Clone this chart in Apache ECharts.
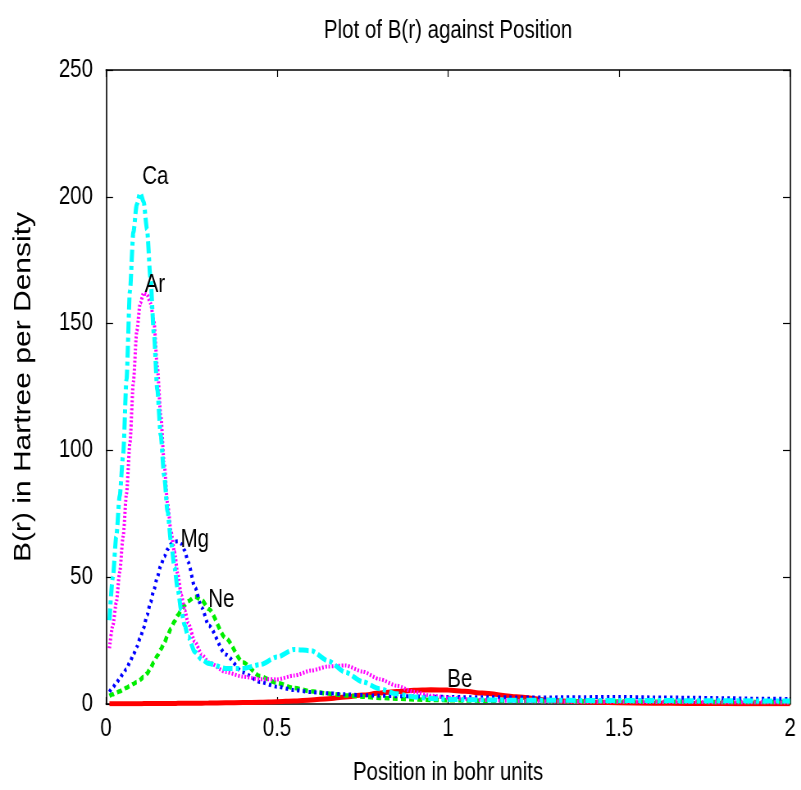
<!DOCTYPE html>
<html>
<head>
<meta charset="utf-8">
<script src="https://cdn.jsdelivr.net/npm/echarts@6/dist/echarts.min.js"></script>
<style>
  html, body { margin: 0; padding: 0; background: #fff; overflow: hidden; }
  /* The plot is laid out on a wider canvas and squeezed horizontally,
     which gives the condensed look of the horizontal lettering. */
  #chart { width: 977px; height: 790px; transform: scaleX(0.8199); transform-origin: 0 0; }
</style>
</head>
<body>
<div id="chart"></div>
<script>
// Radial positions (bohr) shared by every element's curve
const positions = [0.01,0.02,0.03,0.04,0.05,0.06,0.07,0.08,0.09,0.10,0.11,0.12,0.13,0.14,0.15,0.16,0.17,0.18,0.19,0.20,0.21,0.22,0.23,0.24,0.26,0.28,0.30,0.35,0.40,0.45,0.50,0.55,0.60,0.65,0.70,0.75,0.80,0.85,0.90,0.95,1.00,1.05,1.10,1.20,1.30,1.40,1.50,1.60,1.70,1.80,1.90,2.00];

// B(r) values for each element
const beValues = [0.05,0.06,0.07,0.08,0.09,0.1,0.11,0.12,0.13,0.14,0.15,0.16,0.17,0.18,0.19,0.2,0.21,0.22,0.23,0.24,0.25,0.26,0.27,0.28,0.3,0.33,0.36,0.45,0.56,0.7,0.9,1.2,1.6,2.1,2.8,3.5,4.3,4.9,5.4,5.6,5.5,5.0,4.3,2.9,1.4,0.8,0.5,0.3,0.2,0.15,0.1,0.05];
const neValues = [3.2,3.8,4.4,5.0,5.7,6.4,7.1,7.9,8.7,9.6,10.7,12,14.2,16.5,19,21.5,24,27,29.8,32.5,35,37,39,40.5,42.3,41,37.5,26,16.5,11,8.3,6.3,5,4.1,3.4,2.9,2.4,2.1,1.8,1.6,1.5,1.4,1.3,1.2,1.1,1.0,1.0,0.9,0.9,0.8,0.8,0.8];
const mgValues = [4.8,6.5,8.3,10,12,13.8,16.5,19.5,22.5,26,30,35,40,45,50,54.5,58,61,63,64,64.2,63.2,60.5,56,46,38,31,19.5,12.5,8.7,6.8,5.5,4.7,4.2,3.8,3.5,3.3,3.1,3.0,2.9,2.8,2.7,2.7,2.6,2.6,2.7,2.8,2.6,2.5,2.3,2.1,2.0];
const arValues = [22,31,40,52,66,83,103,127,147,158,162,161.5,158,151,133,114,95,79,68,60,51,43,37,32,24.5,19.5,16.5,12.6,10.8,9.8,9.7,11.2,13.2,14.8,15.2,12.8,9.8,7.2,4.8,3.3,2.5,2,1.6,1.2,1.0,0.9,0.9,0.8,0.8,0.7,0.7,0.6];
const caValues = [33,50,66,82,98,128,163,186,197,201.5,198,187,168,146,124,106,90,76,64,54,45,37,31,26.5,20.5,17.5,16,14,14,15.5,18.5,21.5,21,17,12.5,8.8,6,4,2.8,2.2,1.8,1.7,1.6,1.5,1.5,1.4,1.4,1.4,1.3,1.3,1.2,1.2];

// Curve labels and where they sit in data coordinates
const labelNames = ['Ca', 'Ar', 'Mg', 'Ne', 'Be'];
const labelX = [0.106, 0.113, 0.218, 0.299, 0.998];
const labelY = [207.8, 165, 64.7, 41, 9.5];

// Axis tick settings
const xTicks = { min: 0, max: 2, interval: 0.5 };
const yTicks = { min: 0, max: 250, interval: 50 };

const FONT = "'Liberation Sans', Arial, Helvetica, sans-serif";
const SQUEEZE = 0.8199; // horizontal scale applied to the chart box

function pairs(values) {
  return positions.map((x, i) => [x, values[i]]);
}

const frameLine = { show: true, onZero: false, lineStyle: { color: '#000', width: 1.6 } };
const xTick = { show: true, inside: true, length: 7, lineStyle: { color: '#000', width: 1.2 } };
const yTick = { show: true, inside: true, length: 7 / SQUEEZE, lineStyle: { color: '#000', width: 1.2 } };

function curve(name, values, color, width, dash) {
  return {
    name: name,
    type: 'line',
    data: pairs(values),
    showSymbol: false,
    smooth: 0.25,
    smoothMonotone: 'x',
    lineStyle: { color: color, width: width, type: dash, cap: 'butt' },
    emphasis: { disabled: true },
    animation: false,
    z: 2
  };
}

const chart = echarts.init(document.getElementById('chart'), null, { renderer: 'canvas' });

chart.setOption({
  backgroundColor: '#ffffff',
  animation: false,
  title: {
    text: 'Plot of B(r) against Position',
    left: 444 / SQUEEZE,
    textAlign: 'center',
    top: 14,
    textStyle: { fontFamily: FONT, fontSize: 25, fontWeight: 'normal', color: '#000' }
  },
  grid: {
    left: 106 / SQUEEZE, right: 11 / SQUEEZE, top: 70, bottom: 86,
    containLabel: false,
    outerBoundsMode: 'none'
  },
  xAxis: [
    {
      type: 'value',
      position: 'bottom',
      min: xTicks.min, max: xTicks.max, interval: xTicks.interval,
      axisLine: frameLine,
      axisTick: xTick,
      splitLine: { show: false },
      axisLabel: { show: true, margin: 13, color: '#000', fontFamily: FONT, fontSize: 25 },
      name: 'Position in bohr units',
      nameLocation: 'middle',
      nameGap: 57,
      nameTextStyle: { fontFamily: FONT, fontSize: 25, color: '#000' }
    },
    {
      type: 'value',
      position: 'top',
      min: xTicks.min, max: xTicks.max, interval: xTicks.interval,
      axisLine: frameLine,
      axisTick: xTick,
      splitLine: { show: false },
      axisLabel: { show: false }
    }
  ],
  yAxis: [
    {
      type: 'value',
      position: 'left',
      min: yTicks.min, max: yTicks.max, interval: yTicks.interval,
      axisLine: frameLine,
      axisTick: yTick,
      splitLine: { show: false },
      axisLabel: { show: true, margin: 13 / SQUEEZE, color: '#000', fontFamily: FONT, fontSize: 25 },
      name: 'B(r) in Hartree per Density',
      nameLocation: 'middle',
      nameRotate: 90,
      nameGap: 70 / SQUEEZE,
      nameTextStyle: { fontFamily: FONT, fontSize: 30, color: '#000' }
    },
    {
      type: 'value',
      position: 'right',
      min: yTicks.min, max: yTicks.max, interval: yTicks.interval,
      axisLine: frameLine,
      axisTick: yTick,
      splitLine: { show: false },
      axisLabel: { show: false }
    }
  ],
  series: [
    curve('Be', beValues, '#ff0000', 5, 'solid'),
    curve('Ne', neValues, '#00ee00', 4.5, [6, 4]),
    curve('Mg', mgValues, '#0000ff', 4, [3, 4]),
    curve('Ar', arValues, '#ff00ff', 4, [2, 2]),
    curve('Ca', caValues, '#00ffff', 5, [12, 4, 4, 4]),
    {
      name: 'labels',
      type: 'scatter',
      data: labelNames.map((n, i) => [labelX[i], labelY[i], n]),
      symbolSize: 0,
      silent: true,
      z: 5,
      itemStyle: { opacity: 1 },
      label: {
        show: true,
        position: [0, 0],
        align: 'left',
        verticalAlign: 'middle',
        formatter: p => p.data[2],
        fontFamily: FONT,
        fontSize: 25,
        color: '#000',
        opacity: 1,
        textBorderWidth: 0
      }
    }
  ]
});
</script>
</body>
</html>
